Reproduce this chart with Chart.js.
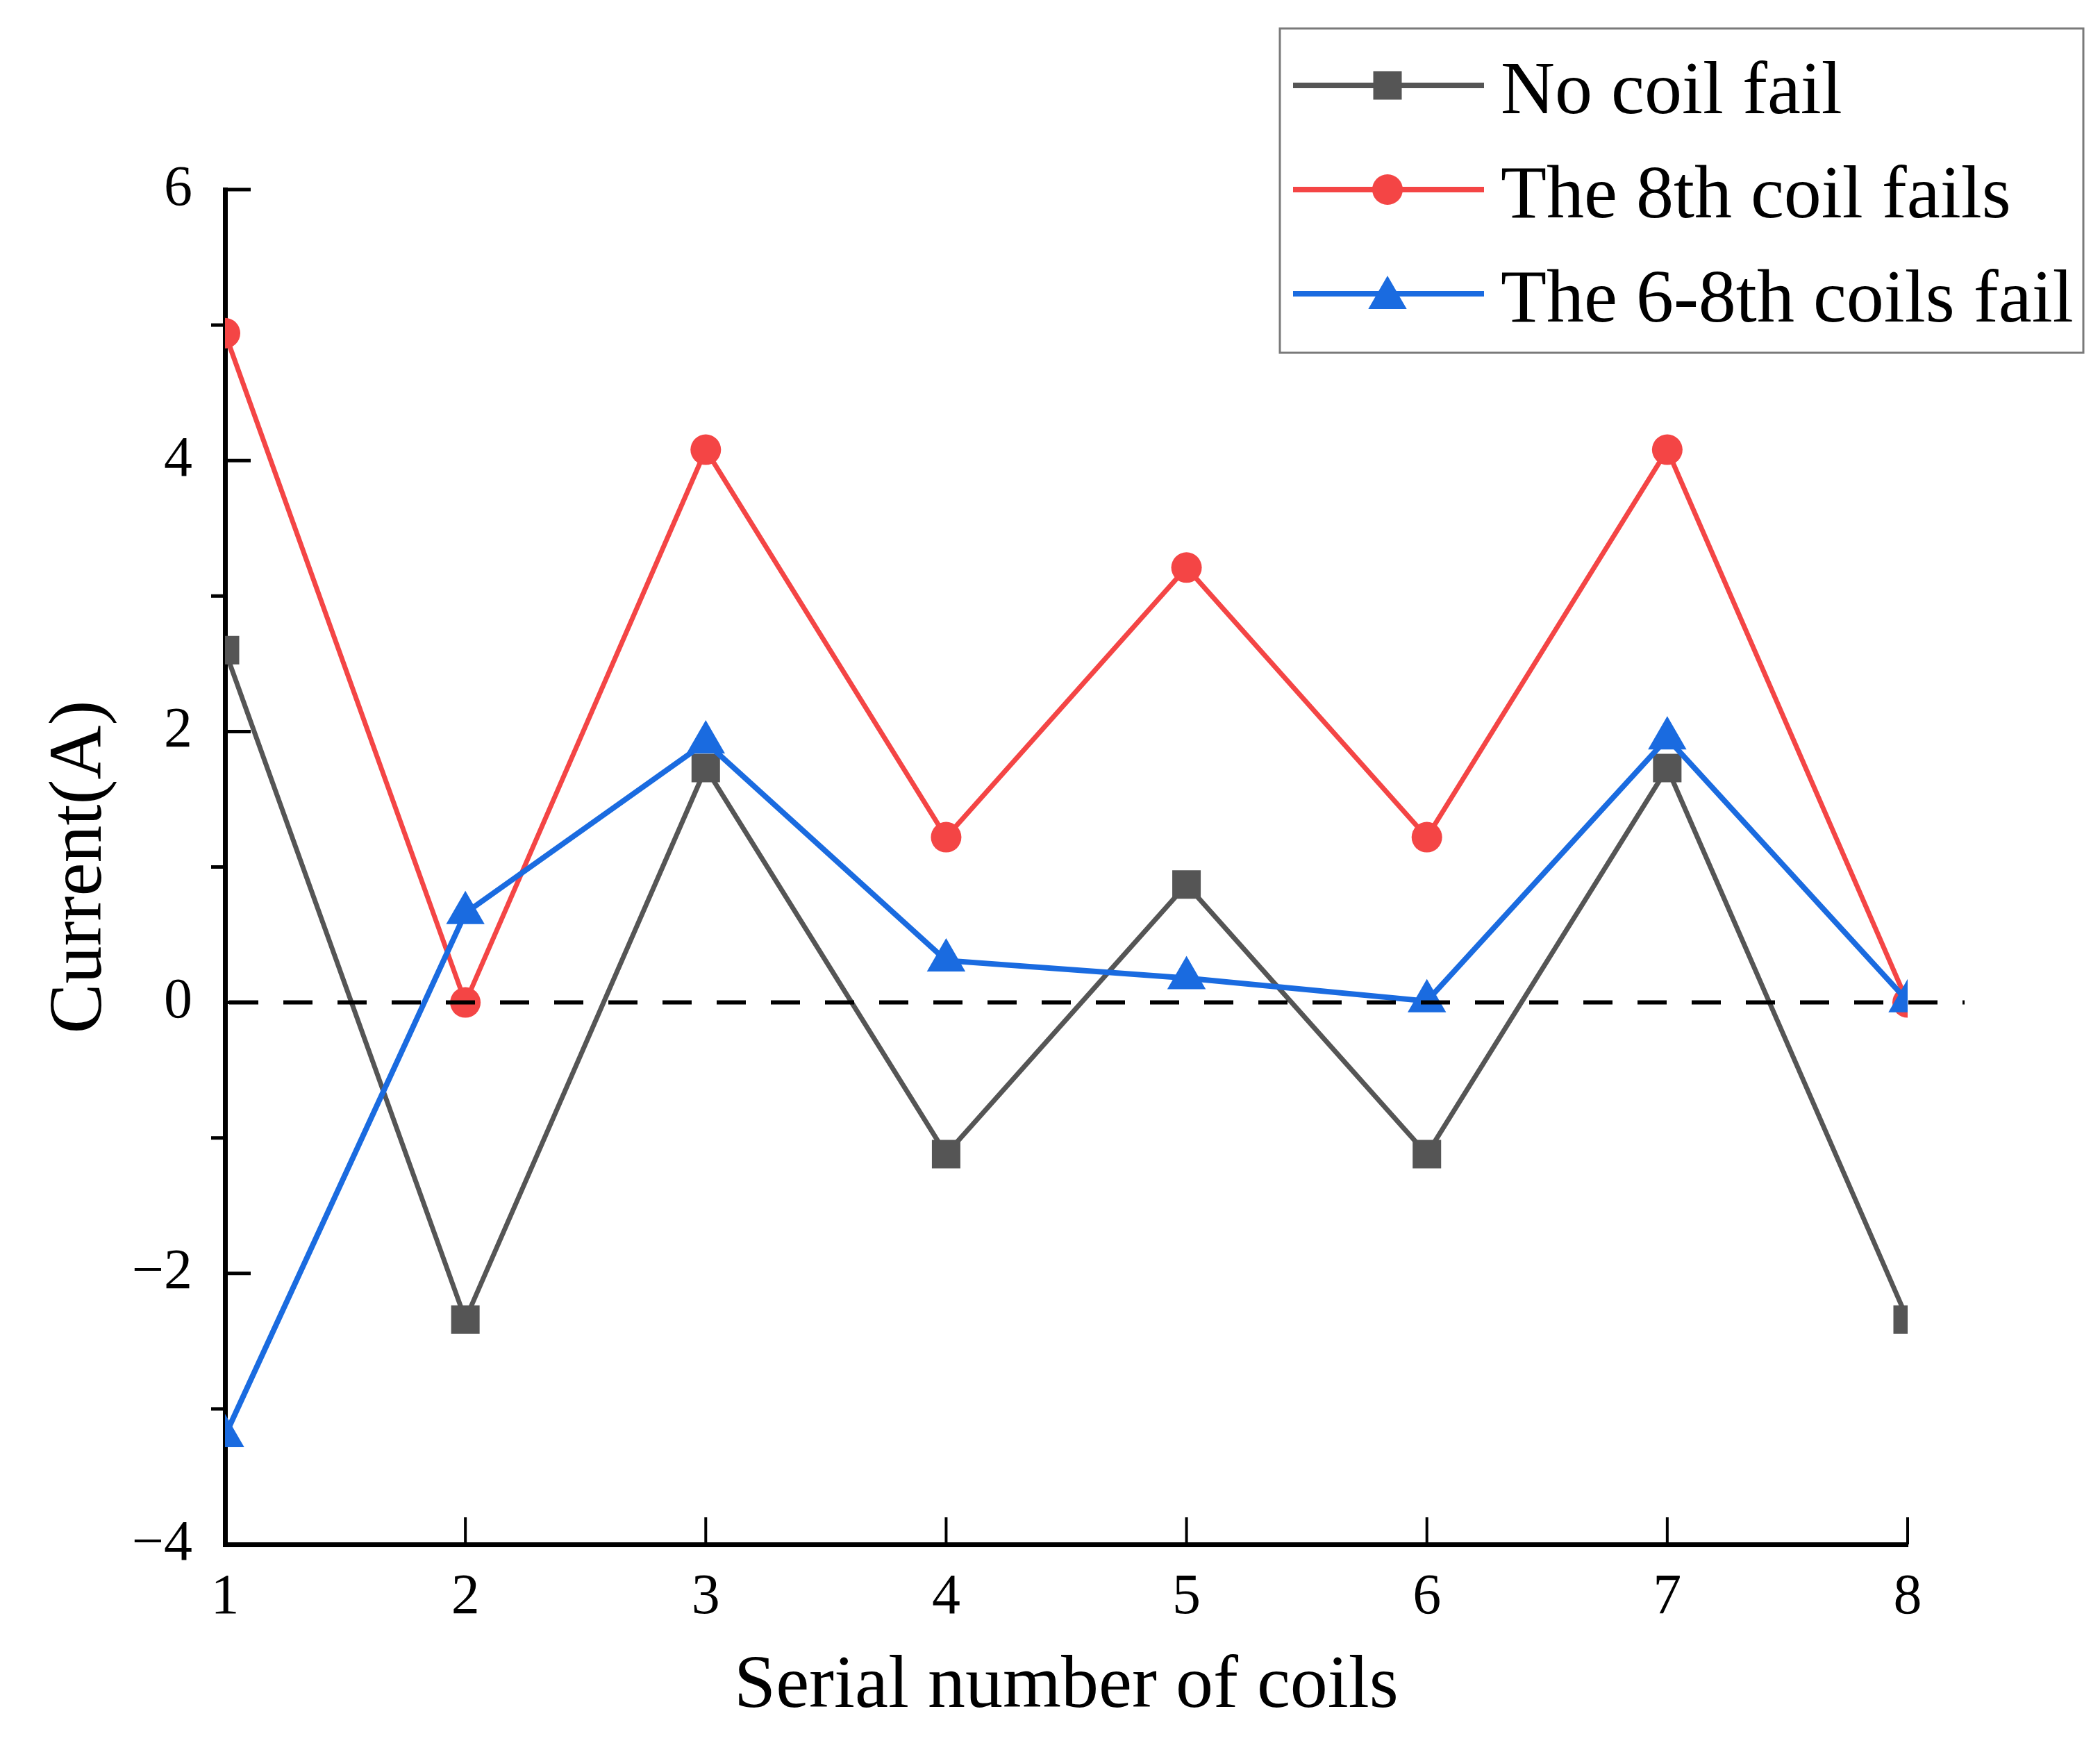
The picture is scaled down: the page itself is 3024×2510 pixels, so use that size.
<!DOCTYPE html>
<html>
<head>
<meta charset="utf-8">
<title>Coil current</title>
<script src="https://cdn.jsdelivr.net/npm/chart.js@4.4.0/dist/chart.umd.min.js"></script>
<style>
  html, body { margin: 0; padding: 0; background: #fff; }
  #wrap { width: 3024px; height: 2510px; }
</style>
</head>
<body>
<div id="wrap"><canvas id="coilChart" width="3024" height="2510"></canvas></div>
<script>
// values
const coils = [1, 2, 3, 4, 5, 6, 7, 8];
const noFail = [2.6, -2.34, 1.73, -1.12, 0.87, -1.12, 1.73, -2.34];
const fail8 = [4.94, 0, 4.08, 1.22, 3.21, 1.22, 4.08, 0];
const fail68 = [-3.2, 0.66, 1.92, 0.31, 0.18, 0.01, 1.95, 0.01];
const seriesNames = ['No coil fail', 'The 8th coil fails', 'The 6-8th coils fail'];
const yLabels = [-4, -2, 0, 2, 4, 6];

const FONT = '"Liberation Serif", "Times New Roman", serif';

function points(vals) {
    return coils.map(function(c, i) { return {x: c, y: vals[i]}; });
}

function marker(ctx, style, x, y, r) {
    ctx.beginPath();
    if (style === 'rect') {
        const s = Math.SQRT1_2 * r;
        ctx.rect(x - s, y - s, 2 * s, 2 * s);
    } else if (style === 'triangle') {
        const a = -Math.PI / 2;
        for (let k = 0; k < 3; k++) {
            const t = a + k * 2 * Math.PI / 3;
            const px = x + Math.cos(t) * r, py = y + Math.sin(t) * r;
            if (k === 0) ctx.moveTo(px, py); else ctx.lineTo(px, py);
        }
        ctx.closePath();
    } else {
        ctx.arc(x, y, r, 0, Math.PI * 2);
    }
    ctx.fill();
}

const axisMarks = {
    id: 'axisMarks',
    afterDatasetsDraw(chart) {
        const {ctx, chartArea, scales} = chart;
        const y0 = scales.y.getPixelForValue(0);
        ctx.save();
        ctx.strokeStyle = '#000';
        ctx.lineWidth = 6;
        ctx.setLineDash([42, 36]);
        ctx.beginPath();
        ctx.moveTo(chartArea.left + 6, y0);
        ctx.lineTo(chartArea.right + 82, y0);
        ctx.stroke();
        ctx.restore();
    },
    afterDraw(chart) {
        const {ctx, chartArea, scales} = chart;
        const x = scales.x, y = scales.y;
        ctx.save();
        ctx.strokeStyle = '#000';
        ctx.lineWidth = 5;
        // y ticks: majors point inward, minors outward
        for (let v = y.min; v <= y.max; v++) {
            const py = y.getPixelForValue(v);
            ctx.beginPath();
            if (yLabels.indexOf(v) >= 0) {
                ctx.moveTo(chartArea.left, py);
                ctx.lineTo(chartArea.left + 37, py);
            } else {
                ctx.moveTo(chartArea.left - 20, py);
                ctx.lineTo(chartArea.left, py);
            }
            ctx.stroke();
        }
        ctx.lineWidth = 4;
        coils.forEach(function(c) {
            const px = x.getPixelForValue(c);
            ctx.beginPath();
            ctx.moveTo(px, chartArea.bottom);
            ctx.lineTo(px, chartArea.bottom - 39);
            ctx.stroke();
        });

        // legend box
        const bx = 1843, by = 41, bw = 1157, bh = 467;
        ctx.fillStyle = '#fff';
        ctx.fillRect(bx, by, bw, bh);
        ctx.strokeStyle = '#7a7a7a';
        ctx.lineWidth = 3;
        ctx.strokeRect(bx, by, bw, bh);
        const rows = [123, 273, 423];
        chart.data.datasets.forEach(function(ds, i) {
            const ry = rows[i];
            ctx.strokeStyle = ds.borderColor;
            ctx.lineWidth = 8;
            ctx.beginPath();
            ctx.moveTo(1862, ry);
            ctx.lineTo(2137, ry);
            ctx.stroke();
            ctx.fillStyle = ds.borderColor;
            marker(ctx, ds.pointStyle, 1998, ry + (ds.pointStyle === 'triangle' ? 6 : 0), ds.pointRadius);
            ctx.fillStyle = '#000';
            ctx.font = '108px ' + FONT;
            ctx.textAlign = 'left';
            ctx.textBaseline = 'alphabetic';
            ctx.fillText(ds.label, 2161, ry + 40);
        });
        ctx.restore();
    }
};

const ctx = document.getElementById('coilChart').getContext('2d');
const coilChart = new Chart(ctx, {
    type: 'line',
    data: {
        datasets: [{
            label: seriesNames[0],
            data: points(noFail),
            borderColor: '#555555',
            backgroundColor: '#555555',
            borderWidth: 7,
            pointStyle: 'rect',
            pointRadius: 29,
            pointBorderWidth: 0,
            order: 2
        }, {
            label: seriesNames[1],
            data: points(fail8),
            borderColor: '#f44545',
            backgroundColor: '#f44545',
            borderWidth: 7,
            pointStyle: 'circle',
            pointRadius: 22,
            pointBorderWidth: 0,
            order: 1
        }, {
            label: seriesNames[2],
            data: points(fail68),
            borderColor: '#1a6be0',
            backgroundColor: '#1a6be0',
            borderWidth: 8,
            pointStyle: 'triangle',
            pointRadius: 32,
            pointBorderWidth: 0,
            order: 0
        }]
    },
    options: {
        responsive: false,
        devicePixelRatio: 1,
        animation: false,
        clip: 0,
        layout: { padding: { top: 273, right: 277, left: 0, bottom: 0 } },
        plugins: {
            legend: { display: false },
            tooltip: { enabled: false }
        },
        elements: { line: { tension: 0 } },
        scales: {
            x: {
                type: 'linear',
                min: 1,
                max: 8,
                afterFit: function(scale) { scale.height = 286; },
                grid: { display: false, drawTicks: false },
                border: { display: true, color: '#000', width: 7 },
                ticks: {
                    stepSize: 1,
                    padding: 28,
                    color: '#000',
                    font: { family: FONT, size: 82 }
                },
                title: {
                    display: true,
                    text: 'Serial number of coils',
                    color: '#000',
                    font: { family: FONT, size: 108 },
                    padding: { top: 0, bottom: 16 }
                }
            },
            y: {
                min: -4,
                max: 6,
                afterFit: function(scale) { scale.width = 324; },
                grid: { display: false, drawTicks: false },
                border: { display: true, color: '#000', width: 7 },
                ticks: {
                    stepSize: 1,
                    padding: 47,
                    color: '#000',
                    font: { family: FONT, size: 82 },
                    callback: function(v) {
                        if (yLabels.indexOf(v) < 0) return '';
                        return v < 0 ? '\u2212' + Math.abs(v) : String(v);
                    }
                },
                title: {
                    display: true,
                    text: 'Current(A)',
                    color: '#000',
                    font: { family: FONT, size: 108 },
                    padding: { top: 52, bottom: 0 }
                }
            }
        }
    },
    plugins: [axisMarks]
});
</script>
</body>
</html>
